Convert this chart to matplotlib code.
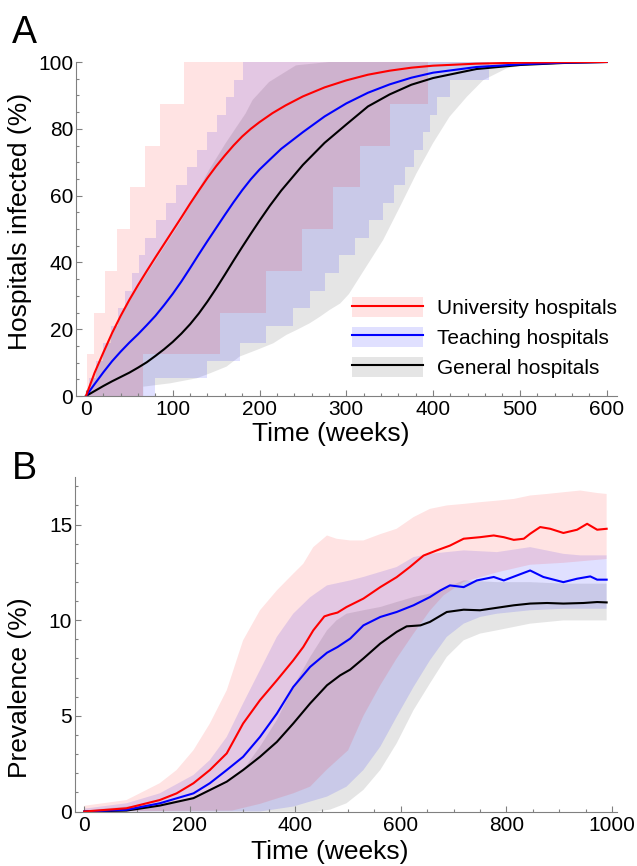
import numpy as np
import matplotlib
matplotlib.use('Agg')
import matplotlib.pyplot as plt
from matplotlib.patches import Patch
from matplotlib.lines import Line2D
from matplotlib.ticker import MultipleLocator

plt.rcParams['font.family'] = ['Liberation Sans', 'DejaVu Sans']

# ---------------------------------------------------------------
# Panel A: hospitals infected (%) -- medians
univ_a_w = [0, 10, 20, 30, 40, 50, 60, 70, 80, 90, 100, 110, 120, 130, 140,
            150, 160, 170, 180, 190, 200, 215, 230, 250, 275, 300, 325, 350,
            375, 400, 450, 500, 550, 600]
univ_a = [0, 7, 13, 18.8, 24, 28.8, 33.2, 37.4, 41.5, 45.5, 49.5, 53.5, 57.6,
          61.5, 65.3, 68.8, 72, 75, 77.7, 80, 82, 84.7, 87, 89.7, 92.4, 94.5,
          96.2, 97.4, 98.3, 98.9, 99.5, 99.8, 99.95, 100]
teach_a_w = [0, 10, 20, 30, 40, 50, 60, 70, 80, 90, 100, 110, 120, 130, 140,
             150, 160, 170, 180, 190, 200, 212, 225, 250, 275, 300, 325, 350,
             375, 400, 450, 500, 550, 600]
teach_a = [0, 3.6, 7.1, 10.4, 13.3, 16, 18.5, 21.2, 24, 27.2, 30.6, 34.3,
           38.3, 42.4, 46.4, 50.3, 54.2, 58, 61.6, 64.9, 67.8, 70.8, 74, 79,
           83.7, 87.6, 90.8, 93.3, 95.3, 96.8, 98.5, 99.3, 99.8, 100]
gen_a_w = [0, 10, 20, 30, 40, 50, 60, 70, 80, 90, 100, 110, 120, 130, 140,
           150, 160, 170, 180, 190, 200, 212, 225, 250, 275, 300, 325, 350,
           375, 400, 450, 500, 550, 600]
gen_a = [0, 1.5, 3, 4.4, 5.7, 7, 8.5, 10.1, 12, 14, 16.2, 18.7, 21.5, 24.7,
         28.3, 32.2, 36.3, 40.5, 44.6, 48.6, 52.5, 57, 61.5, 69.2, 75.8, 81.3,
         86.7, 90.3, 93.2, 95.2, 97.9, 99.1, 99.7, 100]

# Panel A bands (step bounds: week at which each level starts)
univ_levels = [0, 12.5, 25, 37.5, 50, 62.5, 75, 87.5, 100]
univ_hi_start = [0, 1.5, 9.5, 22, 36, 51, 68, 85, 113]
univ_lo_start = [0, 66, 154, 208, 249, 285, 316, 350, 394]

teach_levels = [100 * k / 19 for k in range(20)]
teach_hi_start = [0, 4, 12, 20, 28.5, 36.7, 44.9, 52.7, 60.6, 68.6, 80.5,
                  92.3, 104, 116, 128, 139, 151, 161.7, 171, 181]
teach_lo_start = [0, 80, 139, 177, 208, 239, 258, 275, 292, 310, 326, 342,
                  355, 368, 378, 388, 397, 405, 420, 465]

gen_hi_w = [0, 25, 50, 75, 100, 110, 123, 142, 161, 184, 192, 211, 242, 280, 600]
gen_hi = [0, 15.5, 28.5, 38.5, 48.5, 52.5, 58.7, 67.7, 75.7, 84.6, 88.6, 94,
          99, 100, 100]
gen_lo_w = [0, 66, 66, 97, 127.5, 143, 162, 177, 197, 216, 231, 243, 258, 270,
            281, 293, 303, 323, 342.5, 362, 381, 400, 419, 439, 458, 485, 515,
            531, 600]
gen_lo = [0, 0, 2.8, 3.8, 5.3, 6.8, 8.8, 11.8, 13.8, 15.8, 18.3, 19.8, 21.8,
          23.8, 25.8, 27.7, 30.5, 38.7, 46.7, 56.7, 66.7, 75.7, 83.6, 89.6,
          94.6, 98.1, 99.6, 100, 100]

# ---------------------------------------------------------------
# Panel B: prevalence (%)
univ_b_w = [0, 80, 143, 175, 207, 238, 270, 301, 333, 365, 396, 415, 434, 455,
            466, 480, 497, 529, 561, 592, 617, 643, 668, 693, 719, 750, 776,
            795, 814, 833, 845, 864, 883, 908, 934, 953, 972, 990]
univ_b = [0, 0.17, 0.6, 0.95, 1.48, 2.17, 3.04, 4.6, 5.82, 6.86, 7.9, 8.6,
          9.47, 10.2, 10.3, 10.4, 10.69, 11.13, 11.73, 12.25, 12.78, 13.38,
          13.65, 13.9, 14.26, 14.34, 14.43, 14.34, 14.2, 14.26, 14.52, 14.87,
          14.78, 14.56, 14.73, 15.04, 14.73, 14.78]
teach_b_w = [0, 80, 143, 207, 238, 270, 301, 333, 365, 396, 428, 460, 480, 504,
             529, 561, 592, 624, 655, 675, 693, 719, 744, 776, 795, 820, 845,
             870, 908, 934, 959, 972, 990]
teach_b = [0, 0.09, 0.43, 0.95, 1.48, 2.17, 2.86, 3.9, 5.12, 6.51, 7.56, 8.3,
           8.6, 9.04, 9.73, 10.17, 10.43, 10.78, 11.21, 11.56, 11.82, 11.73,
           12.08, 12.26, 12.08, 12.34, 12.6, 12.26, 11.99, 12.17, 12.29, 12.12,
           12.12]
gen_b_w = [0, 80, 143, 207, 270, 301, 333, 365, 396, 428, 460, 485, 504, 529,
           561, 592, 611, 637, 655, 687, 719, 750, 782, 814, 845, 877, 908, 946,
           972, 990]
gen_b = [0, 0.05, 0.31, 0.7, 1.56, 2.17, 2.86, 3.64, 4.6, 5.65, 6.6, 7.12,
         7.42, 8.0, 8.78, 9.39, 9.68, 9.73, 9.91, 10.43, 10.55, 10.52, 10.65,
         10.78, 10.87, 10.9, 10.87, 10.9, 10.95, 10.93]

univ_b_hi_w = [0, 80, 143, 175, 207, 238, 270, 301, 333, 365, 396, 415, 434,
               460, 478, 504, 529, 561, 592, 624, 655, 687, 719, 750, 782, 814,
               845, 877, 908, 940, 972, 990]
univ_b_hi = [0.3, 0.6, 1.48, 2.17, 3.21, 4.6, 6.34, 8.95, 10.52, 11.56, 12.43,
             12.95, 13.82, 14.43, 14.26, 14.17, 14.17, 14.5, 14.78, 15.39,
             15.82, 16.0, 16.08, 16.17, 16.25, 16.34, 16.52, 16.6, 16.69,
             16.78, 16.65, 16.6]
univ_b_lo_w = [0, 280, 333, 396, 428, 460, 500, 529, 561, 592, 624, 655, 681,
               719, 782, 845, 908, 990]
univ_b_lo = [0, 0.05, 0.4, 0.95, 1.3, 2.2, 3.2, 5.0, 6.6, 8.0, 9.3, 10.5,
             11.3, 12.0, 12.5, 12.9, 13.0, 13.2]

teach_b_hi_w = [0, 80, 143, 207, 238, 270, 301, 333, 365, 396, 428, 460, 504,
                529, 592, 624, 655, 719, 782, 845, 908, 940, 990]
teach_b_hi = [0.15, 0.43, 0.95, 1.91, 2.69, 3.9, 5.65, 7.39, 9.13, 10.34,
              11.2, 11.82, 12.08, 12.26, 12.78, 13.3, 13.47, 13.65, 13.56,
              13.82, 13.47, 13.39, 13.39]
teach_b_lo_w = [0, 333, 396, 460, 497, 529, 561, 592, 624, 655, 687, 719, 750,
                782, 845, 908, 990]
teach_b_lo = [0, 0, 0.26, 0.78, 1.3, 2.17, 3.39, 4.95, 6.51, 7.9, 9.13, 9.82,
              10.17, 10.34, 10.52, 10.6, 10.6]

gen_b_hi_w = [0, 143, 207, 270, 301, 333, 365, 396, 428, 460, 478, 497, 529,
              561, 592, 624, 655, 687, 719, 782, 845, 908, 990]
gen_b_hi = [0.05, 0.43, 0.7, 1.48, 2.17, 3.39, 4.78, 6.51, 8.08, 9.47, 9.99,
            10.34, 10.52, 10.69, 10.95, 11.21, 11.39, 11.73, 12.08, 11.99,
            11.99, 11.91, 11.91]
gen_b_lo_w = [0, 440, 466, 497, 529, 561, 592, 624, 655, 687, 719, 750, 782,
              845, 908, 990]
gen_b_lo = [0, 0, 0.1, 0.43, 1.13, 2.17, 3.56, 5.3, 6.69, 8.08, 8.95, 9.3,
            9.47, 9.82, 9.99, 9.99]

names = ['University hospitals', 'Teaching hospitals', 'General hospitals']

# colours
red, blue, black = '#ff0000', '#0000ff', '#000000'
fill_red = (1, 0, 0, 0.11)
fill_blue = (0, 0, 1, 0.12)
fill_gray = (0.5, 0.5, 0.5, 0.2)
axis_col = '#808080'


def stair(starts, levels, end):
    xs, ys = [], []
    for i in range(len(starts)):
        nxt = starts[i + 1] if i + 1 < len(starts) else end
        xs += [starts[i], nxt]
        ys += [levels[i], levels[i]]
    return xs, ys


def band(ax, xu, yu, xl, yl, color):
    xs = list(xu) + list(xl)[::-1]
    ys = list(yu) + list(yl)[::-1]
    ax.fill(xs, ys, color=color, lw=0)


def style_axes(ax):
    for s in ['top', 'right']:
        ax.spines[s].set_visible(False)
    for s in ['left', 'bottom']:
        ax.spines[s].set_color(axis_col)
        ax.spines[s].set_linewidth(0.8)
    ax.tick_params(which='both', direction='in', color=axis_col,
                   labelsize=15, width=0.8)
    ax.tick_params(which='major', length=4.5)
    ax.tick_params(which='minor', length=2.5)
    ax.tick_params(axis='x', pad=3)
    ax.tick_params(axis='y', pad=2)


fig = plt.figure(figsize=(6.37, 8.66), dpi=100)

# ---------------------------------------------------------------
# Panel A
ax1 = fig.add_axes([0.1193, 0.5427, 0.8493, 0.3857])
band(ax1, gen_hi_w, gen_hi, gen_lo_w, gen_lo, fill_gray)
xu, yu = stair(teach_hi_start, teach_levels, 600)
xl, yl = stair(teach_lo_start, teach_levels, 600)
band(ax1, xu, yu, xl, yl, fill_blue)
xu, yu = stair(univ_hi_start, univ_levels, 600)
xl, yl = stair(univ_lo_start, univ_levels, 600)
band(ax1, xu, yu, xl, yl, fill_red)

ax1.plot(gen_a_w, gen_a, color=black, lw=1.5)
ax1.plot(teach_a_w, teach_a, color=blue, lw=1.5)
ax1.plot(univ_a_w, univ_a, color=red, lw=1.5)

ax1.set_xlim(-11.5, 612)
ax1.set_ylim(0, 100)
ax1.xaxis.set_major_locator(MultipleLocator(100))
ax1.xaxis.set_minor_locator(MultipleLocator(20))
ax1.yaxis.set_major_locator(MultipleLocator(20))
ax1.yaxis.set_minor_locator(MultipleLocator(5))
style_axes(ax1)
ax1.set_xlabel('Time (weeks)', fontsize=19)
ax1.set_ylabel('Hospitals infected (%)', fontsize=19)
ax1.xaxis.set_label_coords(0.47, -0.077)
ax1.yaxis.set_label_coords(-0.082, 0.524)

handles = [(Patch(color=fill_red, lw=0), Line2D([0], [0], color=red, lw=1.5)),
           (Patch(color=fill_blue, lw=0), Line2D([0], [0], color=blue, lw=1.5)),
           (Patch(color=fill_gray, lw=0), Line2D([0], [0], color=black, lw=1.5))]
fig.legend(handles, names, loc='upper left',
           bbox_to_anchor=(352 / 637, 1 - 297 / 866),
           bbox_transform=fig.transFigure, frameon=False, fontsize=15,
           handlelength=3.4, handleheight=1.1, handletextpad=0.7,
           labelspacing=0.42, borderpad=0, borderaxespad=0)

# ---------------------------------------------------------------
# Panel B
ax2 = fig.add_axes([0.1177, 0.0629, 0.8504, 0.3866])
band(ax2, gen_b_hi_w, gen_b_hi, gen_b_lo_w, gen_b_lo, fill_gray)
band(ax2, teach_b_hi_w, teach_b_hi, teach_b_lo_w, teach_b_lo, fill_blue)
band(ax2, univ_b_hi_w, univ_b_hi, univ_b_lo_w, univ_b_lo, fill_red)

ax2.plot(gen_b_w, gen_b, color=black, lw=1.5)
ax2.plot(teach_b_w, teach_b, color=blue, lw=1.5)
ax2.plot(univ_b_w, univ_b, color=red, lw=1.5)

ax2.set_xlim(-17.6, 1009)
ax2.set_ylim(0, 17.5)
ax2.xaxis.set_major_locator(MultipleLocator(200))
ax2.xaxis.set_minor_locator(MultipleLocator(50))
ax2.yaxis.set_major_locator(MultipleLocator(5))
ax2.yaxis.set_minor_locator(MultipleLocator(1))
style_axes(ax2)
ax2.set_xlabel('Time (weeks)', fontsize=19)
ax2.set_ylabel('Prevalence (%)', fontsize=19)
ax2.xaxis.set_label_coords(0.47, -0.086)
ax2.yaxis.set_label_coords(-0.08, 0.37)

# panel letters
fig.text(12 / 637, 1 - 43 / 866, 'A', fontsize=27, va='baseline', ha='left')
fig.text(12 / 637, 1 - 479 / 866, 'B', fontsize=27, va='baseline', ha='left')

fig.savefig('out.png', dpi=100)
